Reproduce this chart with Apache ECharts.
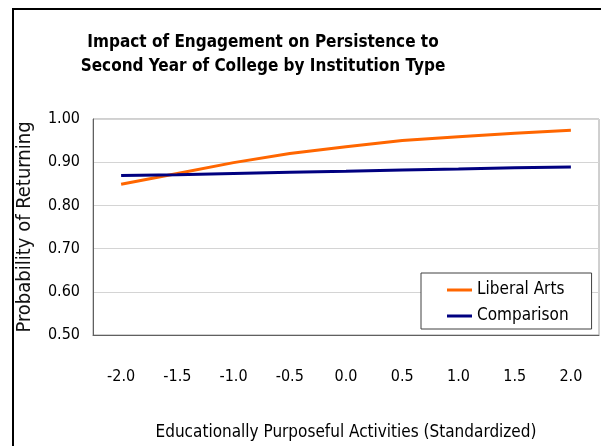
<!DOCTYPE html>
<html>
<head>
<meta charset="UTF-8">
<title>Persistence chart</title>
<script src="https://cdn.jsdelivr.net/npm/echarts@6/dist/echarts.min.js"></script>
</head>
<body style="margin:0;background:#fff;">
<div id="main" style="width:601px;height:446px;"></div>
<script type="text/javascript">
// x categories (standardized activity score)
var xLabels = ['-2.0', '-1.5', '-1.0', '-0.5', '0.0', '0.5', '1.0', '1.5', '2.0'];
// probability of returning
var liberalArts = [0.849, 0.874, 0.899, 0.920, 0.936, 0.950, 0.959, 0.967, 0.974];
var comparison = [0.869, 0.871, 0.874, 0.877, 0.879, 0.882, 0.884, 0.887, 0.889];

var FONT = '"DejaVu Sans Condensed", "Liberation Sans Narrow", "Roboto Condensed", sans-serif';

var option = {
    animation: false,
    title: {
        text: 'Impact of Engagement on Persistence to\nSecond Year of College by Institution Type',
        left: 258,
        top: 26,
        textAlign: 'center',
        textStyle: {
            fontFamily: FONT,
            fontSize: 17,
            fontWeight: 'bold',
            color: '#000',
            lineHeight: 24
        }
    },
    graphic: [{
        type: 'rect',
        shape: { x: 13, y: 9, width: 700, height: 600 },
        style: { fill: 'none', stroke: '#000', lineWidth: 2 },
        silent: true
    }],
    grid: {
        left: 93,
        top: 119,
        right: 2,
        bottom: 103,
        show: true,
        borderColor: '#a0a0a0',
        borderWidth: 1
    },
    legend: {
        orient: 'vertical',
        left: 421,
        top: 273,
        padding: [8, 23, 4, 26],
        icon: 'path://M0,0 L25,0 L25,3 L0,3 Z',
        itemWidth: 25,
        itemHeight: 3,
        itemGap: 8,
        borderColor: '#404040',
        borderWidth: 1,
        backgroundColor: '#fff',
        textStyle: { fontFamily: FONT, fontSize: 17, color: '#000', lineHeight: 18 },
        data: ['Liberal Arts', 'Comparison']
    },
    xAxis: {
        type: 'category',
        data: xLabels,
        boundaryGap: true,
        name: 'Educationally Purposeful Activities (Standardized)',
        nameLocation: 'middle',
        nameGap: 89,
        nameTextStyle: { fontFamily: FONT, fontSize: 17, color: '#000' },
        axisLine: { show: true, lineStyle: { color: '#606060', width: 1 } },
        axisTick: { show: false },
        axisLabel: { margin: 34, fontFamily: FONT, fontSize: 16, color: '#000' }
    },
    yAxis: {
        type: 'value',
        min: 0.5,
        max: 1.0,
        interval: 0.1,
        name: 'Probability of Returning',
        nameLocation: 'middle',
        nameGap: 58,
        nameTextStyle: { fontFamily: FONT, fontSize: 20, color: '#111' },
        axisLine: { show: true, lineStyle: { color: '#606060', width: 1 } },
        axisTick: { show: false },
        axisLabel: {
            margin: 13,
            fontFamily: FONT,
            fontSize: 16,
            color: '#000',
            formatter: function (v) { return v.toFixed(2); }
        },
        splitLine: { show: true, lineStyle: { color: '#d4d4d4', width: 1 } }
    },
    series: [{
        name: 'Liberal Arts',
        type: 'line',
        data: liberalArts,
        symbol: 'none',
        color: '#ff6600',
        lineStyle: { color: '#ff6600', width: 3 }
    }, {
        name: 'Comparison',
        type: 'line',
        data: comparison,
        symbol: 'none',
        color: '#000080',
        lineStyle: { color: '#000080', width: 3 }
    }]
};

var myChart = echarts.init(document.getElementById('main'));
myChart.setOption(option);
</script>
</body>
</html>
